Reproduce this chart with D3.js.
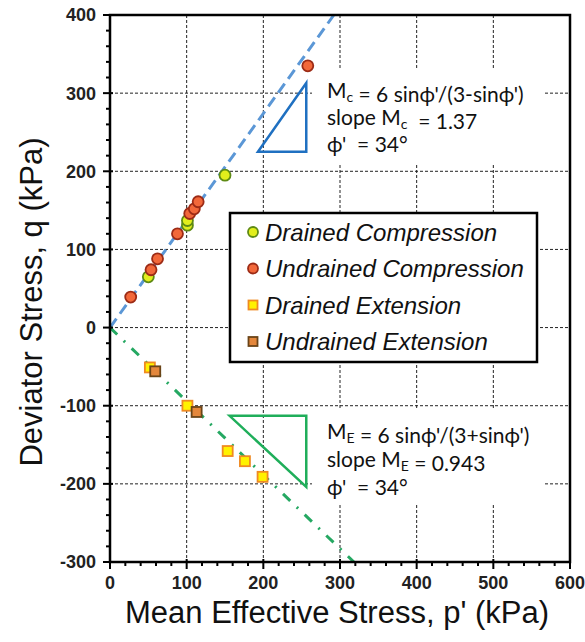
<!DOCTYPE html>
<meta charset="utf-8">
<head>
<style>
  body { margin: 0; background: #fff; }
  .grid line { stroke: #222; stroke-width: 1; stroke-dasharray: 3,2; }
  .tick-label { font: bold 18px "Liberation Sans", Arial, sans-serif; fill: #222; }
  .axis-title { font: 31px "Liberation Sans", Arial, sans-serif; fill: #111; }
  .legend text { font: italic 24px "Liberation Sans", Arial, sans-serif; fill: #111; }
  .note { font: 21px Lato, "Open Sans", sans-serif; fill: #111; white-space: pre; }
</style>
</head>
<body>
<div id="content"></div>
<script src="https://d3js.org/d3.v7.min.js"></script>
<script type="text/javascript">

// values (p', q in kPa)
var drainedCompP = [50, 101, 101, 150];
var drainedCompQ = [65, 131, 137, 195];
var undrainedCompP = [27, 53.5, 62, 88, 104, 110, 115, 258];
var undrainedCompQ = [39, 74, 88, 120, 146, 152, 161, 335];
var drainedExtP = [52, 101, 153.5, 176, 199];
var drainedExtQ = [-51, -100, -158, -171, -191];
var undrainedExtP = [59, 113];
var undrainedExtQ = [-56, -108];

var slopeMc = 1.37, slopeMe = 0.943;
var xTicks = [0, 100, 200, 300, 400, 500, 600];
var yTicks = [-300, -200, -100, 0, 100, 200, 300, 400];
var legendLabels = ["Drained Compression", "Undrained Compression", "Drained Extension", "Undrained Extension"];

// slope triangles (data units)
var triC = [[193, 225], [256, 313], [256, 225]];
var triE = [[156, -113], [256, -113], [256, -204]];

var width = 585, height = 642;
var margin = {top: 15, right: 15, bottom: 80, left: 110};

var svg = d3.select("#content").append("svg")
    .attr("width", width)
    .attr("height", height);

var x = d3.scaleLinear().domain([0, 600]).range([margin.left, width - margin.right]);
var y = d3.scaleLinear().domain([-300, 400]).range([height - margin.bottom, margin.top]);

// grid
var grid = svg.append("g").attr("class", "grid");
grid.selectAll("line.v").data(xTicks.slice(1, -1)).enter().append("line")
    .attr("x1", function(d) { return x(d); }).attr("x2", function(d) { return x(d); })
    .attr("y1", y(400)).attr("y2", y(-300));
grid.selectAll("line.h").data(yTicks.slice(1, -1)).enter().append("line")
    .attr("x1", x(0)).attr("x2", x(600))
    .attr("y1", function(d) { return y(d); }).attr("y2", function(d) { return y(d); });

// white boxes behind the notes
svg.append("rect").attr("x", 312).attr("y", 68).attr("width", 233).attr("height", 97).attr("fill", "#fff");
svg.append("rect").attr("x", 312).attr("y", 410).attr("width", 233).attr("height", 95).attr("fill", "#fff");

// failure lines
var line = d3.line().x(function(d) { return x(d[0]); }).y(function(d) { return y(d[1]); });
svg.append("path")
    .attr("d", line([[0, 0], [400 / slopeMc, 400]]))
    .attr("fill", "none").attr("stroke", "#5b97d6").attr("stroke-width", 3)
    .attr("stroke-dasharray", "11,6");
svg.append("path")
    .attr("d", line([[0, 0], [300 / slopeMe, -300]]))
    .attr("fill", "none").attr("stroke", "#25a862").attr("stroke-width", 3)
    .attr("stroke-dasharray", "10,9,2,9");

// triangles
svg.append("path").attr("d", line(triC) + "Z")
    .attr("fill", "none").attr("stroke", "#1f70c1").attr("stroke-width", 2.5);
svg.append("path").attr("d", line(triE) + "Z")
    .attr("fill", "none").attr("stroke", "#1fae5a").attr("stroke-width", 2.5);

// frame
svg.append("rect")
    .attr("x", x(0)).attr("y", y(400))
    .attr("width", x(600) - x(0)).attr("height", y(-300) - y(400))
    .attr("fill", "none").attr("stroke", "#000").attr("stroke-width", 2.5);

// axes with minor ticks
var yMinor = d3.range(-300, 401, 20);
var xMinor = d3.range(0, 601, 20);
var yAxis = svg.append("g").attr("transform", "translate(" + x(0) + ",0)");
yAxis.selectAll("line.minor").data(yMinor).enter().append("line")
    .attr("x1", function(d) { return d % 100 === 0 ? -7 : -4; })
    .attr("x2", function(d) { return d % 100 === 0 ? 3 : 0; })
    .attr("y1", function(d) { return y(d); }).attr("y2", function(d) { return y(d); })
    .attr("stroke", "#000").attr("stroke-width", 2);
yAxis.selectAll("text").data(yTicks).enter().append("text")
    .attr("class", "tick-label")
    .attr("x", -14).attr("y", function(d) { return y(d); })
    .attr("dy", "0.36em").attr("text-anchor", "end")
    .text(function(d) { return d; });

var xAxis = svg.append("g").attr("transform", "translate(0," + y(-300) + ")");
xAxis.selectAll("line.minor").data(xMinor).enter().append("line")
    .attr("x1", function(d) { return x(d); }).attr("x2", function(d) { return x(d); })
    .attr("y1", function(d) { return d % 100 === 0 ? -3 : 0; })
    .attr("y2", function(d) { return d % 100 === 0 ? 7 : 4; })
    .attr("stroke", "#000").attr("stroke-width", 2);
xAxis.selectAll("text").data(xTicks).enter().append("text")
    .attr("class", "tick-label")
    .attr("x", function(d) { return x(d); }).attr("y", 27)
    .attr("text-anchor", "middle")
    .text(function(d) { return d; });

svg.append("text").attr("class", "axis-title")
    .attr("x", 337).attr("y", 623).attr("text-anchor", "middle")
    .text("Mean Effective Stress, p' (kPa)");
svg.append("text").attr("class", "axis-title")
    .attr("transform", "translate(42,302) rotate(-90)")
    .attr("text-anchor", "middle")
    .text("Deviator Stress, q (kPa)");

// data points
var series = [
  {p: drainedCompP, q: drainedCompQ, shape: "circle", fill: "#e2ee1c", stroke: "#5e8a14"},
  {p: undrainedCompP, q: undrainedCompQ, shape: "circle", fill: "#f2683a", stroke: "#9c2b16"},
  {p: drainedExtP, q: drainedExtQ, shape: "square", fill: "#fff200", stroke: "#ef8a22"},
  {p: undrainedExtP, q: undrainedExtQ, shape: "square", fill: "#e4873c", stroke: "#6a4418"}
];

function drawMarker(g, s, cx, cy, r) {
  if (s.shape === "circle") {
    g.append("circle").attr("cx", cx).attr("cy", cy).attr("r", r)
      .attr("fill", s.fill).attr("stroke", s.stroke).attr("stroke-width", 1.8);
  } else {
    g.append("rect").attr("x", cx - r).attr("y", cy - r).attr("width", 2 * r).attr("height", 2 * r)
      .attr("fill", s.fill).attr("stroke", s.stroke).attr("stroke-width", 1.8);
  }
}

var pts = svg.append("g");
series.forEach(function(s) {
  s.p.forEach(function(p, i) {
    drawMarker(pts, s, x(p), y(s.q[i]), s.shape === "circle" ? 5.5 : 5);
  });
});

// legend
var legend = svg.append("g").attr("class", "legend");
legend.append("rect").attr("x", 230).attr("y", 213).attr("width", 307).attr("height", 149)
    .attr("fill", "#fff").attr("stroke", "#000").attr("stroke-width", 2.5);
series.forEach(function(s, i) {
  var cy = 232 + i * 36.5;
  drawMarker(legend, s, 253, cy, s.shape === "circle" ? 5 : 4.5);
  legend.append("text").attr("x", 265).attr("y", cy).attr("dy", "0.36em").text(legendLabels[i]);
});

// notes: each line is a list of [text, isSubscript]
function note(x0, y0, step, lines) {
  lines.forEach(function(parts, i) {
    var t = svg.append("text").attr("class", "note").attr("x", x0).attr("y", y0 + i * step);
    parts.forEach(function(p) {
      if (p[1]) {
        t.append("tspan").attr("dy", 4).style("font-size", "14px").text(p[0]);
        t.append("tspan").attr("dy", -4).text("");
      } else {
        t.append("tspan").text(p[0]);
      }
    });
  });
}
note(327, 98, 27, [
  [["M"], ["c", true], [" = 6 sin\u03d5'/(3-sin\u03d5')"]],
  [["slope M"], ["c", true], ["  = 1.37"]],
  [["\u03d5'  = 34\u00b0"]]
]);
note(327, 439, 28, [
  [["M"], ["E", true], [" = 6 sin\u03d5'/(3+sin\u03d5')"]],
  [["slope M"], ["E", true], [" = 0.943"]],
  [["\u03d5'  = 34\u00b0"]]
]);

</script>
</body>
</html>
